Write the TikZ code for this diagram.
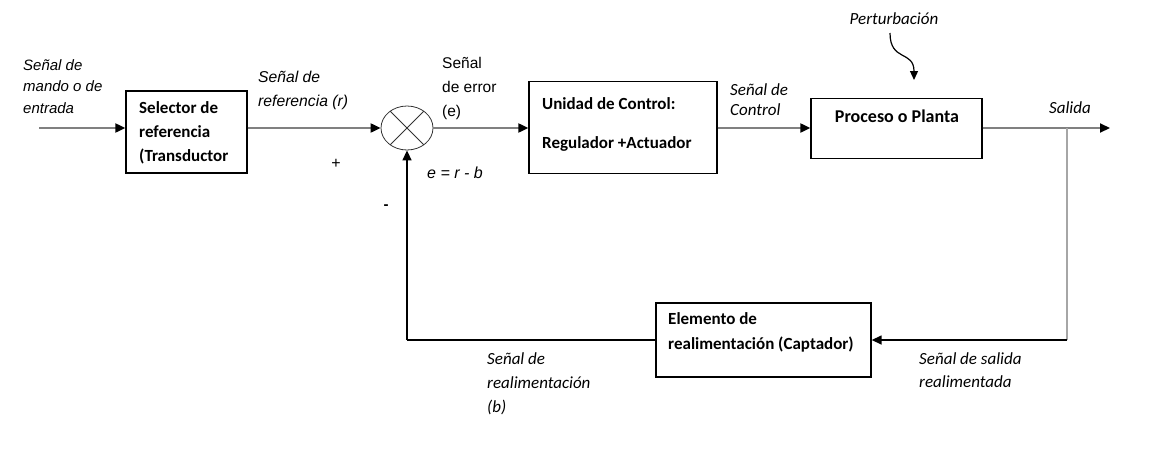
\documentclass[tikz,border=0pt]{standalone}
\usepackage{fontspec}
\setmainfont{Carlito}
\newfontfamily\arialf{Liberation Sans}
\usetikzlibrary{arrows.meta,shapes.geometric}
\definecolor{linegray}{RGB}{128,128,128}
\definecolor{lightgrayb}{RGB}{166,166,166}
\begin{document}
\begin{tikzpicture}[x=1pt,y=-1pt,
  box/.style={draw=black,line width=1.3pt,inner sep=0pt},
  flow/.style={draw=linegray,line width=2pt,-{Triangle[length=10pt,width=9pt,color=black]}},
  fb/.style={draw=black,line width=1.4pt},
  fbarrow/.style={fb,-{Triangle[length=10pt,width=9pt]}},
  boxtxt/.style={font=\bfseries\fontsize{17}{24}\selectfont,anchor=base west,align=left,inner sep=0pt},
  cal/.style={font=\itshape\fontsize{17}{24}\selectfont,anchor=base west,align=left,inner sep=0pt},
  ari/.style={font=\arialf\itshape\fontsize{15}{21.5}\selectfont,anchor=base west,align=left,inner sep=0pt},
  arup/.style={font=\arialf\fontsize{15.5}{24}\selectfont,anchor=base west,align=left,inner sep=0pt},
]
\useasboundingbox (0,0) rectangle (1158,453);

% blocks
\node[box,minimum width=121pt,minimum height=82pt] (sel) at (186.5,132) {};
\node[box,minimum width=188pt,minimum height=92pt] (uni) at (623,127.5) {};
\node[box,minimum width=171pt,minimum height=60pt] (pro) at (896.5,128.5) {};
\node[box,minimum width=215pt,minimum height=74pt] (ele) at (763.5,340) {};
\node[draw=black!80,line width=0.8pt,ellipse,minimum width=52pt,minimum height=44pt,inner sep=0pt] (sum) at (407,128) {};
\draw[draw=black!80,line width=0.8pt] (sum.45) -- (sum.225) (sum.135) -- (sum.315);

% block texts (base = baseline of last line)
\node[boxtxt] (tsel) at (139,161) {Selector de\\referencia\\(Transductor};
\node[boxtxt] (tuni1) at (542,109.5) {Unidad de Control:};
\node[boxtxt] (tuni2) at (542,148.5) {Regulador +Actuador};
\node[boxtxt,anchor=base,font=\bfseries\fontsize{18}{24}\selectfont] (tpro) at (897,122) {Proceso o Planta};
\node[boxtxt,font=\bfseries\fontsize{17}{25}\selectfont] (tele) at (668,349.5) {Elemento de\\realimentación (Captador)};

% coordinates
\coordinate (in) at (39,128);
\coordinate (out) at (1110,128);
\coordinate (br) at (1067,128);
\coordinate (fbl) at (sum.south |- ele.west);
\coordinate (pstart) at (890,33);
\coordinate (ptip) at (914,80);

% connectors
\draw[flow] (in) -- (in -| sel.west);
\draw[flow] (sel.east |- sum.west) -- (sum.west);
\draw[flow] (sum.east) -- (uni.west |- sum.east);
\draw[flow] (uni.east |- sum.east) -- (pro.west |- sum.east);
\draw[flow] (pro.east |- sum.east) -- (out);
\draw[draw=lightgrayb,line width=2pt] (br) -- (br |- ele.east);
\draw[fbarrow] (br |- ele.east) -- (ele.east);
\draw[fb] (ele.west) -- (fbl);
\draw[fbarrow] (fbl) -- (sum.south);
\draw[black,line width=1.2pt,-{Triangle[length=9pt,width=8pt]}] (pstart) .. controls (890,62) and (914,50) .. (ptip);

% labels
\node[ari] (lin) at (23,113) {Señal de\\mando o de\\entrada};
\node[ari,font=\arialf\itshape\fontsize{15.7}{24}\selectfont] (lref) at (258,106) {Señal de\\referencia (r)};
\node[arup] (lerr) at (442,116) {Señal\\de error\\(e)};
\node[ari,font=\arialf\itshape\fontsize{16}{20}\selectfont] (leq) at (427,178) {e = r - b};
\node[arup,anchor=center,font=\arialf\fontsize{16}{20}\selectfont] (lplus) at (336,164) {+};
\node[arup,anchor=center,font=\arialf\bfseries\fontsize{15}{20}\selectfont] (lminus) at (386,207) {-};
\node[cal,font=\itshape\fontsize{17}{20}\selectfont] (lctl) at (730,115.5) {Señal de\\Control};
\node[cal,anchor=base] (lsal) at (1070,113.5) {Salida};
\node[cal,anchor=base] (pert) at (894,24.5) {Perturbación};
\node[cal] (lfb) at (487,412.5) {Señal de\\realimentación\\(b)};
\node[cal,font=\itshape\fontsize{17}{23}\selectfont] (lfo) at (919,387.5) {Señal de salida\\realimentada};
\end{tikzpicture}
\end{document}
